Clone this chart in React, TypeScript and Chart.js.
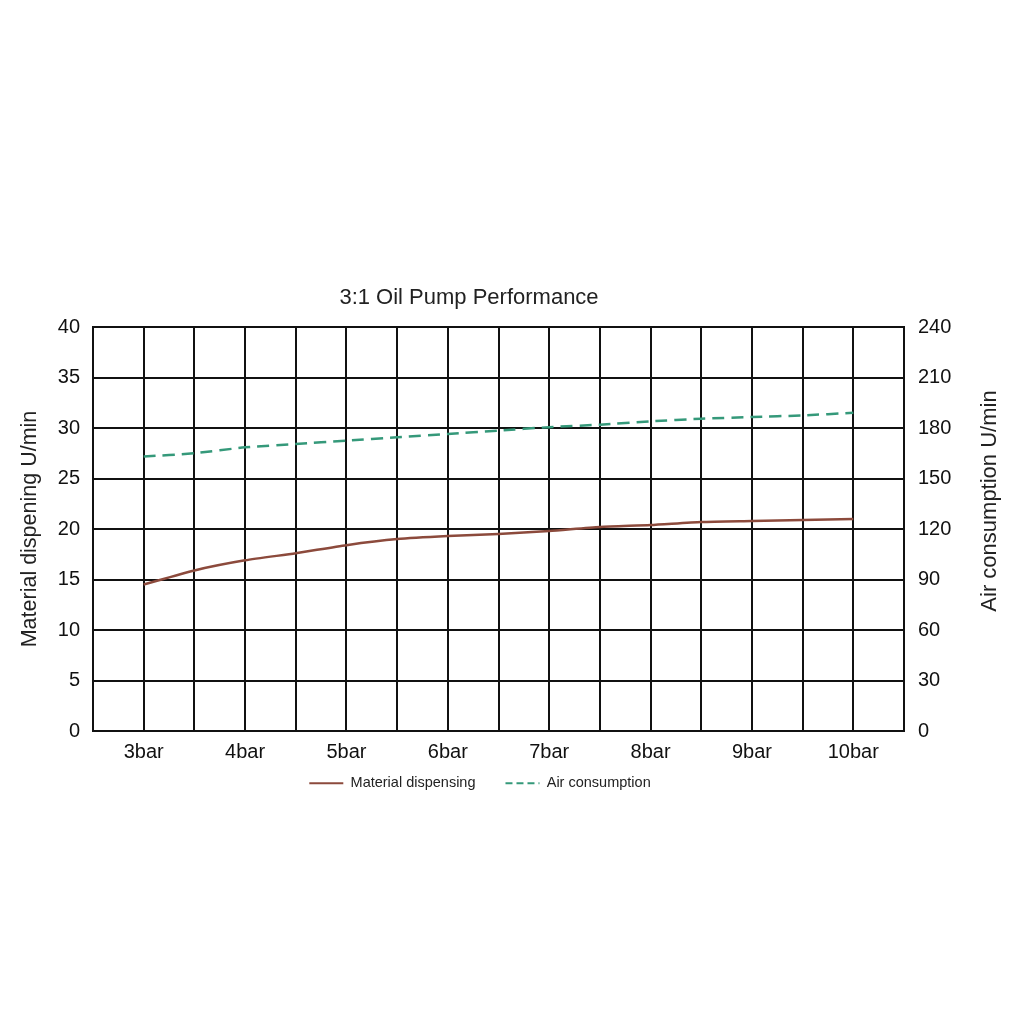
import { useEffect, useRef } from 'react';
import { Chart, registerables } from 'chart.js';

Chart.register(...registerables);

// ---- data ----
const chartTitle = '3:1 Oil Pump Performance';
const leftAxisTitle = 'Material dispening U/min';
const rightAxisTitle = 'Air consumption U/min';
const seriesLabels = ['Material dispensing', 'Air consumption'];

const pressures = [3, 3.5, 4, 4.5, 5, 5.5, 6, 6.5, 7, 7.5, 8, 8.5, 9, 9.5, 10];
const materialDispensing = [14.5, 15.9, 16.9, 17.6, 18.4, 19.0, 19.3, 19.5, 19.8, 20.2, 20.4, 20.7, 20.8, 20.9, 21.0];
const airConsumption = [163, 165, 168.5, 170.5, 172.5, 174.5, 176.5, 178.5, 180.5, 182, 184, 185.5, 186.5, 187.5, 189];

const xTickValues = [3, 4, 5, 6, 7, 8, 9, 10];
const xTickLabels = ['3bar', '4bar', '5bar', '6bar', '7bar', '8bar', '9bar', '10bar'];

const FONT = '"Liberation Sans", Arial, Helvetica, sans-serif';
const INK = '#111';

const layoutTweaks = {
  id: 'layoutTweaks',
  afterLayout(chart: any) {
    const t = chart.titleBlock;
    if (t) { t.left -= 43; t.right -= 43; }
    const l = chart.legend;
    if (l) { l.left -= 32; l.right -= 32; l.top -= 25; l.bottom -= 25; }
  },
  afterDraw(chart: any) {
    const ctx = chart.ctx;
    const s = chart.scales.y1;
    ctx.save();
    ctx.translate(s.right - 34, (chart.chartArea.top + chart.chartArea.bottom) / 2 - 28);
    ctx.rotate(-Math.PI / 2);
    ctx.textAlign = 'center';
    ctx.textBaseline = 'middle';
    ctx.font = `22px ${FONT}`;
    ctx.fillStyle = '#222';
    ctx.fillText(rightAxisTitle, 0, 0);
    ctx.restore();
  },
};

export default function App() {
  const ref = useRef<HTMLCanvasElement | null>(null);

  useEffect(() => {
    if (!ref.current) return;
    const chart = new Chart(ref.current, {
      type: 'line',
      data: {
        datasets: [
          {
            label: seriesLabels[0],
            data: pressures.map((p, i) => ({ x: p, y: materialDispensing[i] })),
            borderColor: '#8c4a3c',
            backgroundColor: '#8c4a3c',
            borderWidth: 2.5,
            pointRadius: 0,
            tension: 0.2,
            yAxisID: 'y',
          },
          {
            label: seriesLabels[1],
            data: pressures.map((p, i) => ({ x: p, y: airConsumption[i] })),
            borderColor: '#35997a',
            backgroundColor: '#35997a',
            borderWidth: 2.5,
            borderDash: [12, 7],
            pointRadius: 0,
            tension: 0.2,
            yAxisID: 'y1',
          },
        ],
      },
      options: {
        responsive: false,
        animation: false,
        layout: { padding: { top: 285, left: 0, right: 0, bottom: 198.5 } },
        plugins: {
          title: {
            display: true,
            text: chartTitle,
            color: '#222',
            font: { family: FONT, size: 22, weight: 'normal' },
            padding: { top: 0, bottom: 15.6 },
          },
          legend: {
            display: true,
            position: 'bottom',
            labels: {
              color: '#222',
              font: { family: FONT, size: 14.5 },
              usePointStyle: true,
              pointStyle: 'line',
              pointStyleWidth: 34,
              padding: 30,
              generateLabels: (c: any) =>
                Chart.defaults.plugins.legend.labels.generateLabels(c).map((it: any, i: number) => ({
                  ...it,
                  lineWidth: 2,
                  lineDash: c.data.datasets[i].borderDash ? [7, 4] : [],
                })),
            },
          },
          tooltip: { enabled: false },
        },
        scales: {
          x: {
            type: 'linear',
            min: 2.5,
            max: 10.5,
            afterFit: (s: any) => { s.height = 40; },
            grid: { color: INK, lineWidth: 2, drawTicks: false },
            border: { color: INK, width: 2 },
            ticks: {
              stepSize: 0.5,
              autoSkip: false,
              maxRotation: 0,
              padding: 9,
              color: INK,
              font: { family: FONT, size: 20 },
              callback: (v: any) => {
                const i = xTickValues.indexOf(Number(v));
                return i >= 0 ? xTickLabels[i] : '';
              },
            },
          },
          y: {
            position: 'left',
            min: 0,
            max: 40,
            afterFit: (s: any) => { s.width = 93; },
            grid: { color: INK, lineWidth: 2, drawTicks: false },
            border: { color: INK, width: 2 },
            ticks: { stepSize: 5, padding: 13, color: INK, font: { family: FONT, size: 20 } },
            title: {
              display: true,
              text: leftAxisTitle,
              color: '#222',
              font: { family: FONT, size: 21.5 },
              padding: { top: 17, bottom: 4 },
            },
          },
          y1: {
            position: 'right',
            min: 0,
            max: 240,
            afterFit: (s: any) => { s.width = 120; },
            grid: { drawOnChartArea: false, drawTicks: false },
            border: { color: INK, width: 2 },
            ticks: { stepSize: 30, padding: 14, color: INK, font: { family: FONT, size: 20 } },
          },
        },
      },
      plugins: [layoutTweaks],
    });
    return () => chart.destroy();
  }, []);

  return (
    <div style={{ position: 'absolute', left: 0, top: 0, width: 1024, height: 1024, background: '#fff' }}>
      <canvas ref={ref} width={1024} height={1024} style={{ display: 'block' }} />
    </div>
  );
}
